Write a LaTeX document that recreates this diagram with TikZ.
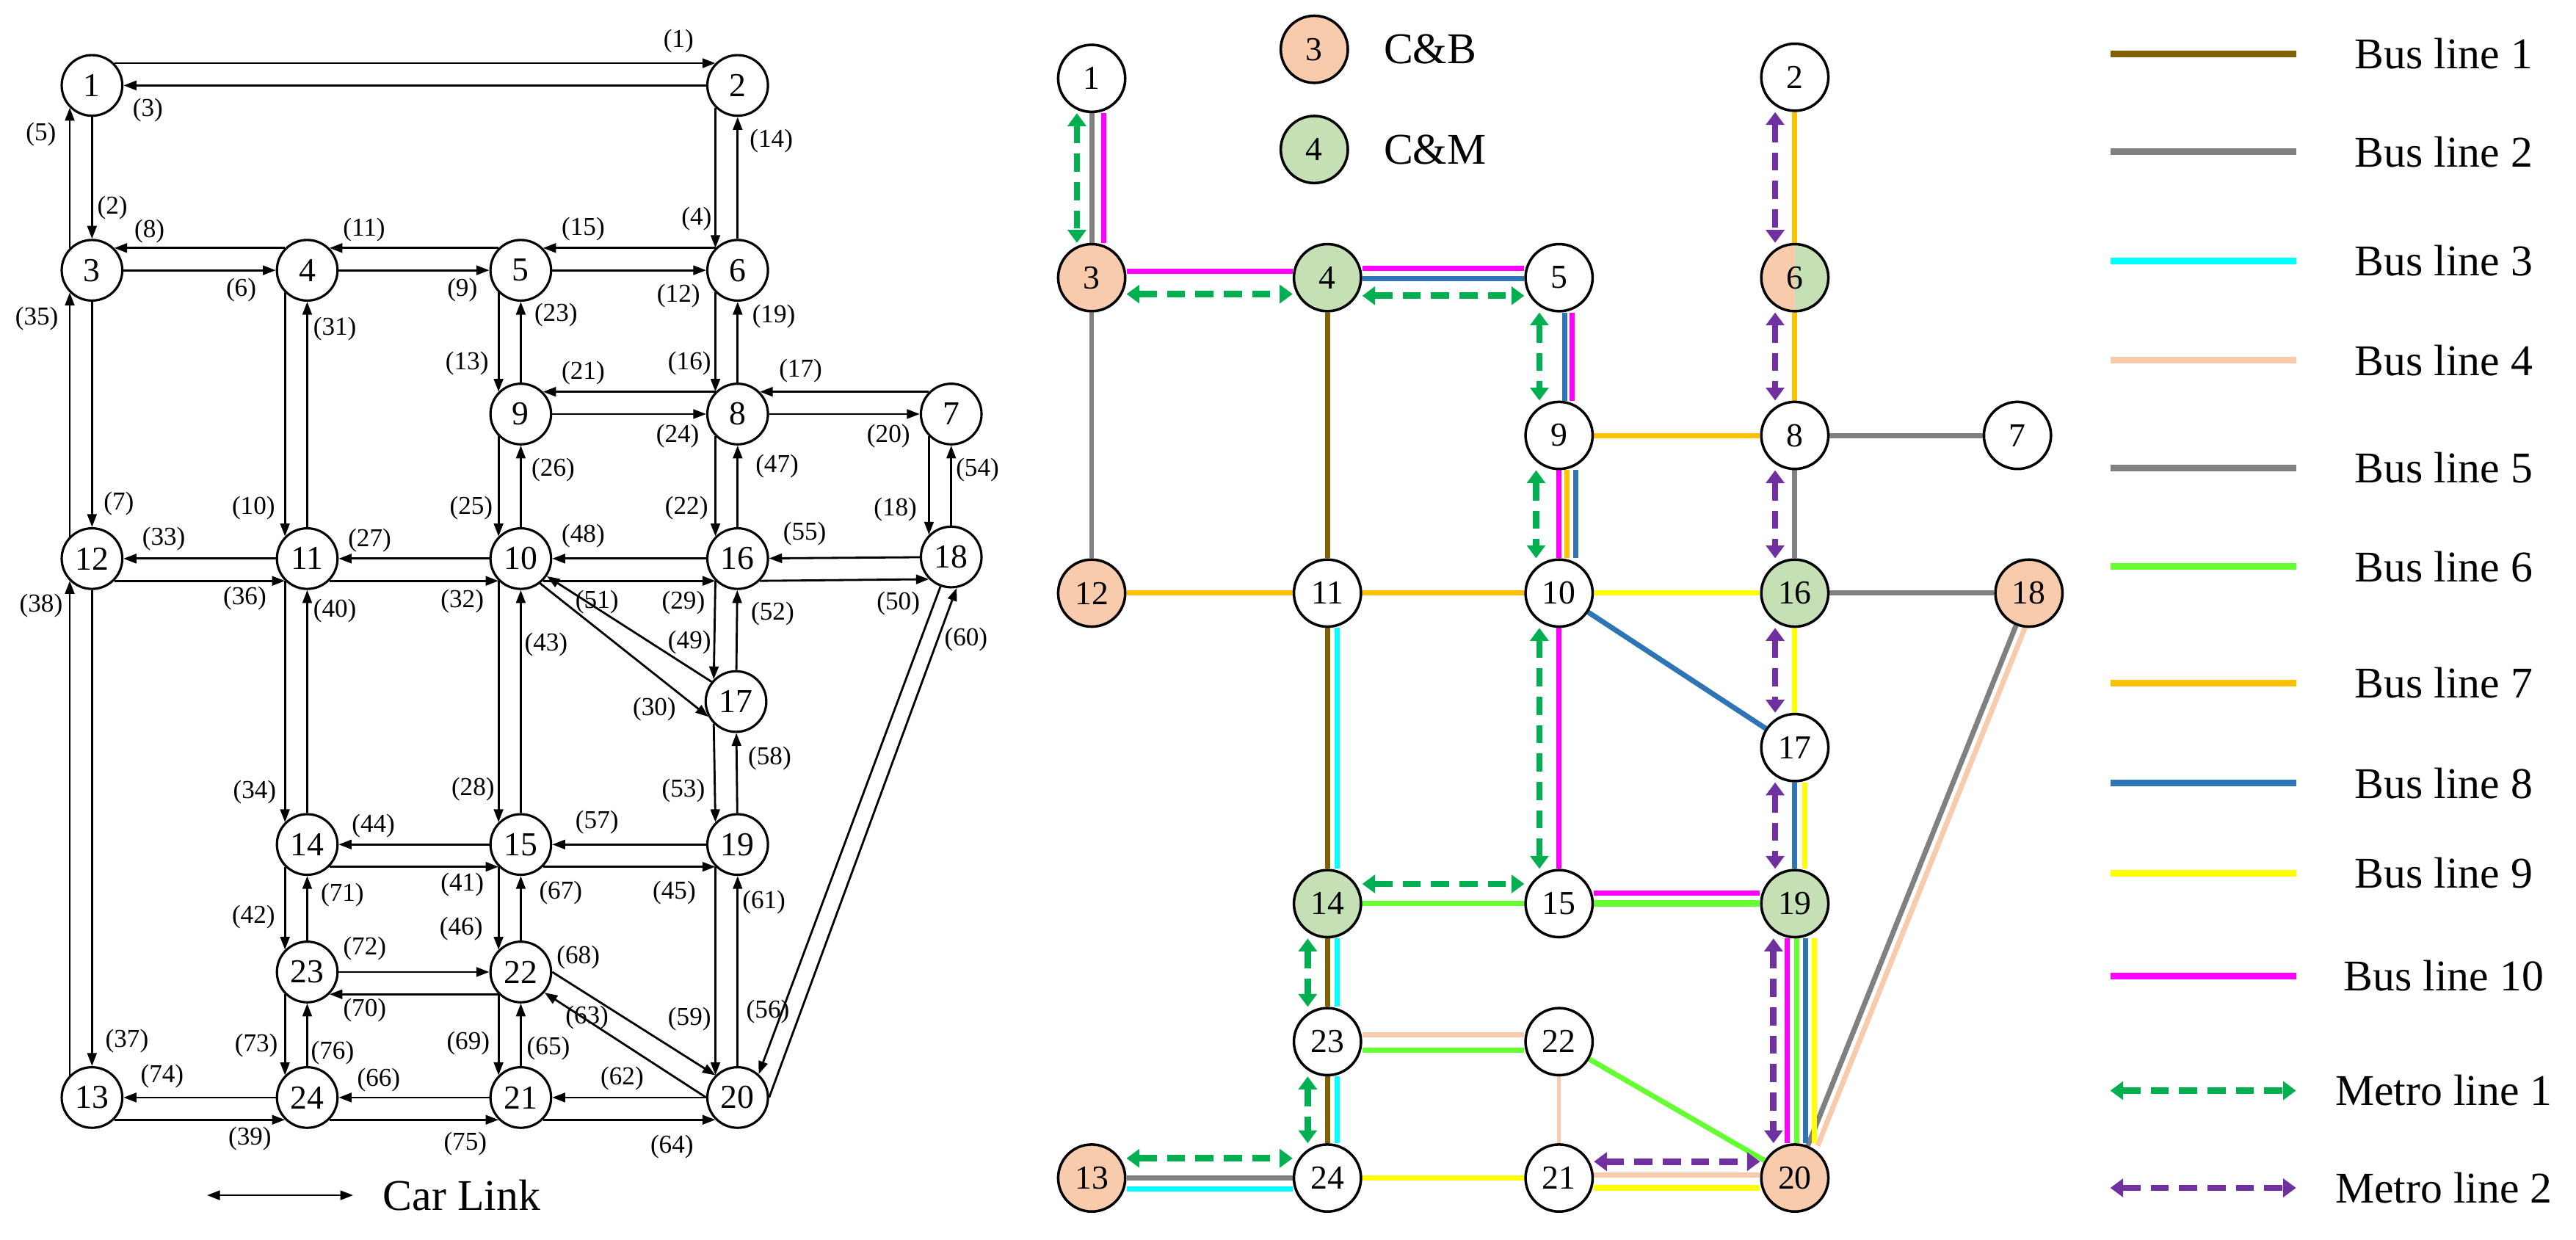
\documentclass[tikz,border=0pt]{standalone}
\usepackage{fontspec}
\setmainfont{Liberation Serif}
\usetikzlibrary{arrows.meta}
\definecolor{cB1}{HTML}{806000}
\definecolor{cB2}{HTML}{808080}
\definecolor{cB3}{HTML}{00FFFF}
\definecolor{cB4}{HTML}{F8CBAD}
\definecolor{cB6}{HTML}{66FF33}
\definecolor{cB7}{HTML}{FFC000}
\definecolor{cB8}{HTML}{2E75B6}
\definecolor{cB9}{HTML}{FFFF00}
\definecolor{cB10}{HTML}{FF00FF}
\definecolor{cM1}{HTML}{00B050}
\definecolor{cM2}{HTML}{7030A0}
\definecolor{fO}{HTML}{F8CBAD}
\definecolor{fG}{HTML}{C5E0B4}
\pgfdeclarelayer{bg}
\pgfsetlayers{bg,main}
\begin{document}
\begin{tikzpicture}[x=0.022379cm,y=-0.022379cm,
  ln/.style={circle,draw,line width=0.9pt,fill=white,minimum size=23.5pt,inner sep=0pt,font=\fontsize{13}{13}\selectfont},
  rn/.style={circle,draw,line width=1pt,fill=white,minimum size=26pt,inner sep=0pt,font=\fontsize{13}{13}\selectfont},
  fo/.style={fill=fO}, fg/.style={fill=fG},
  lab/.style={font=\fontsize{10}{10}\selectfont,inner sep=0pt},
  leg/.style={font=\fontsize{17}{17}\selectfont,inner sep=0pt},
  ca/.style={line width=0.8pt,-{Triangle[length=5pt,width=3.6pt]}},
  bl/.style={line width=2pt,draw=#1},
  mt/.style={line width=2.5pt,draw=#1,dash pattern=on 7pt off 4pt,{Triangle[length=5pt,width=7pt,fill=#1]}-{Triangle[length=5pt,width=7pt,fill=#1]}},
  sx/.style={transform canvas={xshift=(#1)*0.6367pt}},
  sy/.style={transform canvas={yshift=(0-(#1))*0.6367pt}}]
\useasboundingbox (0,0) rectangle (1568,754.3);
% ---------- left network ----------
\foreach \n/\x/\y in {1/56/52,2/449/52,3/56/164.5,4/187/164.5,5/317/164.5,6/449/164.5,9/317/252,8/449/252,7/579/252,12/56/340,11/187/340,10/317/340,16/449/340,18/579/339,17/448/427,14/187/514,15/317/514,19/449/514,23/187/591.6,22/317/591.6,13/56/668,24/187/668,21/317/668,20/449/668}
  \node[ln] (\n) at (\x,\y) {\n};
% horizontal pairs with top offset
\draw[ca] (1.north east)--(2.north west); \draw[ca] (2)--(1);
\draw[ca] (4.north west)--(3.north east); \draw[ca] (3)--(4);
\draw[ca] (5.north west)--(4.north east); \draw[ca] (4)--(5);
\draw[ca] (6.north west)--(5.north east); \draw[ca] (5)--(6);
\draw[ca] (8.north west)--(9.north east); \draw[ca] (9)--(8);
\draw[ca] (7.north west)--(8.north east); \draw[ca] (8)--(7);
% horizontal pairs with bottom offset
\draw[ca] (11)--(12); \draw[ca] (12.south east)--(11.south west);
\draw[ca] (10)--(11); \draw[ca] (11.south east)--(10.south west);
\draw[ca] (16)--(10); \draw[ca] (10.south east)--(16.south west);
\draw[ca] (18)--(16); \draw[ca] (16.south east)--(18.south west);
\draw[ca] (15)--(14); \draw[ca] (14.south east)--(15.south west);
\draw[ca] (19)--(15); \draw[ca] (15.south east)--(19.south west);
\draw[ca] (23)--(22); \draw[ca] (22.south west)--(23.south east);
\draw[ca] (24)--(13); \draw[ca] (13.south east)--(24.south west);
\draw[ca] (21)--(24); \draw[ca] (24.south east)--(21.south west);
\draw[ca] (20)--(21); \draw[ca] (21.south east)--(20.south west);
% vertical pairs
\draw[ca] (3.north west)--(1.south west); \draw[ca] (1)--(3);
\draw[ca] (2.south west)--(6.north west); \draw[ca] (6)--(2);
\draw[ca] (12.north west)--(3.south west); \draw[ca] (3)--(12);
\draw[ca] (4.south west)--(11.north west); \draw[ca] (11)--(4);
\draw[ca] (5.south west)--(9.north west); \draw[ca] (9)--(5);
\draw[ca] (6.south west)--(8.north west); \draw[ca] (8)--(6);
\draw[ca] (9.south west)--(10.north west); \draw[ca] (10)--(9);
\draw[ca] (8.south west)--(16.north west); \draw[ca] (16)--(8);
\draw[ca] (7.south west)--(18.north west); \draw[ca] (18)--(7);
\draw[ca] (13.north west)--(12.south west); \draw[ca] (12)--(13);
\draw[ca] (11.south west)--(14.north west); \draw[ca] (14)--(11);
\draw[ca] (10.south west)--(15.north west); \draw[ca] (15)--(10);
\draw[ca] (16.south west)--(17.north west); \draw[ca] (17)--(16);
\draw[ca] (17.south west)--(19.north west); \draw[ca] (19)--(17);
\draw[ca] (14.south west)--(23.north west); \draw[ca] (23)--(14);
\draw[ca] (15.south west)--(22.north west); \draw[ca] (22)--(15);
\draw[ca] (19.south west)--(20.north west); \draw[ca] (20)--(19);
\draw[ca] (23.south west)--(24.north west); \draw[ca] (24)--(23);
\draw[ca] (22.south west)--(21.north west); \draw[ca] (21)--(22);
% diagonals
\draw[ca] (17.141)--(10.-34); \draw[ca] (10.-52)--(17.209);
\draw[ca] (22.0)--(20.135); \draw[ca] (20.180)--(22.-41);
\draw[ca] (20.0)--(18.-80); \draw[ca] (18.-110)--(20.48);
% labels
\foreach \t/\x/\y in {1/413/25,3/90/67,5/25/82,14/469.5/86,2/68.4/126.5,8/91/140.6,11/221.6/139.7,15/355/139.5,4/424/133,6/146.8/176.7,9/281.4/176.7,12/413/180,23/338.4/191.5,19/471/192.6,35/22.4/193.8,31/203.8/200,13/284.3/221,21/355/226.8,16/419.7/221,17/487.3/225.7,24/412.5/265.6,20/540.8/265.6,26/336.7/286,47/473/283.8,7/72.3/306.6,10/154.3/309.3,25/286.8/309.3,22/417.9/309.3,18/545/310,33/99.7/328.2,27/225/329,48/355/326,55/489.8/324.8,54/595/285.8,38/25/368.8,36/149/364.3,40/203.8/371.7,32/281.4/365.8,51/363.4/366.4,29/416/366.7,52/470.3/373.8,50/546.8/367.3,60/588/389.4,43/332.4/392.4,49/419.7/391,30/398.3/431.8,58/468.5/461.4,34/155/482,28/287.9/480.3,53/416/481.2,44/227.3/502.8,57/363.4/500.4,41/281.4/538.3,71/208.4/544.8,67/341.3/543.3,45/410.4/543.3,61/465/549.2,42/154.3/558.1,46/280.7/565.5,72/222/577.3,68/352/582.6,70/222/614.9,59/419.7/620.2,63/357.3/619.3,56/467.4/615.7,37/77.3/633.5,73/156/636.5,76/202.4/640.9,69/285/635,65/333.8/638,74/98.7/655.1,66/230.5/657.2,62/378.7/656.3,39/152.1/693.2,75/283.2/696.2,64/409/698}
  \node[lab] (L\t) at (\x,\y) {(\t)};
\coordinate (cl1) at (126,727.5); \coordinate (cl2) at (215,727.5);
\draw[line width=0.8pt,{Triangle[length=5pt,width=3.6pt]}-{Triangle[length=5pt,width=3.6pt]}] (cl1)--(cl2);
\node[leg] (carlink) at (281,727.5) {Car Link};
% ---------- right network ----------
\foreach \n/\x/\y/\s in {1/664.5/47.7/,2/1092.5/47/,3/664.5/169/fo,4/808/169/fg,5/949/169/,9/949/265/,8/1092.5/265/,7/1228/265/,12/664.5/361/fo,11/808/361/,10/949/361/,16/1092.5/361/fg,18/1235/361/fo,17/1092.5/455/,14/808/550/fg,15/949/550/,19/1092.5/550/fg,23/808/634/,22/949/634/,13/664.5/717/fo,24/808/717/,21/949/717/,20/1092.5/717/fo}
  \node[rn,\s] (R\n) at (\x,\y) {\n};
\node[rn,path picture={\fill[fG] (path picture bounding box.south) rectangle (path picture bounding box.north east);
  \fill[fO] (path picture bounding box.south west) rectangle (path picture bounding box.north);}] (R6) at (1092.5,169) {6};
\node[rn,fo] (LgCB) at (800,30) {3};
\node[leg,anchor=west] (LgCBt) at (842,30) {C\&B};
\node[rn,fg] (LgCM) at (800,91) {4};
\node[leg,anchor=west] (LgCMt) at (842,91) {C\&M};
\begin{pgfonlayer}{bg}
\draw[bl=cB2,sx=0] (R1)--(R3); \draw[bl=cB10,sx=7.5] (R1)--(R3);
\draw[bl=cB10,sy=-4] (R3)--(R4);
\draw[bl=cB10,sy=-5.5] (R4)--(R5); \draw[bl=cB8,sy=0.5] (R4)--(R5);
\draw[bl=cB2,line width=1.6pt] (R3)--(R12);
\draw[bl=cB1] (R4)--(R11);
\foreach \a/\b in {R11/R14,R14/R23,R23/R24}{\draw[bl=cB1] (\a)--(\b); \draw[bl=cB3,sx=6] (\a)--(\b);}
\draw[bl=cB8,sx=3.6] (R5)--(R9); \draw[bl=cB10,sx=8] (R5)--(R9);
\draw[bl=cB10] (R9)--(R10); \draw[bl=cB7,sx=5] (R9)--(R10); \draw[bl=cB8,sx=10] (R9)--(R10);
\draw[bl=cB7] (R9)--(R8);
\draw[bl=cB7] (R2)--(R6); \draw[bl=cB7] (R6)--(R8);
\draw[bl=cB2] (R8)--(R7); \draw[bl=cB2] (R8)--(R16);
\draw[bl=cB7] (R12)--(R11); \draw[bl=cB7] (R11)--(R10);
\draw[bl=cB9] (R10)--(R16); \draw[bl=cB2] (R16)--(R18);
\draw[bl=cB8] (R10)--(R17);
\draw[bl=cB9] (R16)--(R17);
\draw[bl=cB8] (R17)--(R19); \draw[bl=cB9,sx=6] (R17)--(R19);
\draw[bl=cB4,sx=6] (R18)--(R20); \draw[bl=cB2] (R18)--(R20);
\draw[bl=cB10] (R10)--(R15);
\draw[bl=cB6] (R14)--(R15);
\draw[bl=cB10,sy=-6.5] (R15)--(R19); \draw[bl=cB6,line width=2.5pt] (R15)--(R19);
\draw[bl=cB10,sx=-4.5] (R19)--(R20); \draw[bl=cB6,sx=1] (R19)--(R20); \draw[bl=cB8,sx=6.5] (R19)--(R20); \draw[bl=cB9,sx=12] (R19)--(R20);
\draw[bl=cB4,sy=-4] (R23)--(R22); \draw[bl=cB6,sy=5] (R23)--(R22);
\draw[bl=cB4,line width=1.5pt] (R22)--(R21); \draw[bl=cB6] (R22)--(R20);
\draw[bl=cB2] (R13)--(R24); \draw[bl=cB3,sy=6.5] (R13)--(R24);
\draw[bl=cB9] (R24)--(R21);
\draw[bl=cB4,sy=-2] (R21)--(R20); \draw[bl=cB9,sy=6] (R21)--(R20);
\end{pgfonlayer}
% metro lines
\draw[mt=cM1,sx=-9] (R1)--(R3);
\draw[mt=cM1,sy=10] (R3)--(R4);
\draw[mt=cM1,sy=11] (R4)--(R5);
\draw[mt=cM1,sx=-12] (R5)--(R9);
\draw[mt=cM1,sx=-14] (R9)--(R10);
\draw[mt=cM1,sx=-12] (R10)--(R15);
\draw[mt=cM1,sy=-12] (R14)--(R15);
\draw[mt=cM1,sx=-12] (R14)--(R23);
\draw[mt=cM1,sx=-12] (R23)--(R24);
\draw[mt=cM1,sy=-12] (R13)--(R24);
\draw[mt=cM2,sx=-12] (R2)--(R6);
\draw[mt=cM2,sx=-12] (R6)--(R8);
\draw[mt=cM2,sx=-12] (R8)--(R16);
\draw[mt=cM2,sx=-12] (R16)--(R17);
\draw[mt=cM2,sx=-12] (R17)--(R19);
\draw[mt=cM2,sx=-13] (R19)--(R20);
\draw[mt=cM2,sy=-10] (R21)--(R20);
% ---------- legend ----------
\foreach \i/\c/\y in {1/cB1/32.7,2/cB2/92.4,3/cB3/158.7,4/cB4/219.3,5/cB2/284.8,6/cB6/344.9,7/cB7/415.6,8/cB8/476.7,9/cB9/531.5,10/cB10/594}{
  \coordinate (ga\i) at (1284.5,\y); \coordinate (gb\i) at (1397.6,\y);
  \draw[line width=2.6pt,draw=\c] (ga\i)--(gb\i);
  \node[leg] (gt\i) at (1487.5,\y) {Bus line \i};}
\foreach \i/\c/\y in {1/cM1/663.8,2/cM2/723}{
  \coordinate (ma\i) at (1284.5,\y); \coordinate (mb\i) at (1397.6,\y);
  \draw[mt=\c] (ma\i)--(mb\i);
  \node[leg] (mtt\i) at (1487.5,\y) {Metro line \i};}
\end{tikzpicture}
\end{document}
